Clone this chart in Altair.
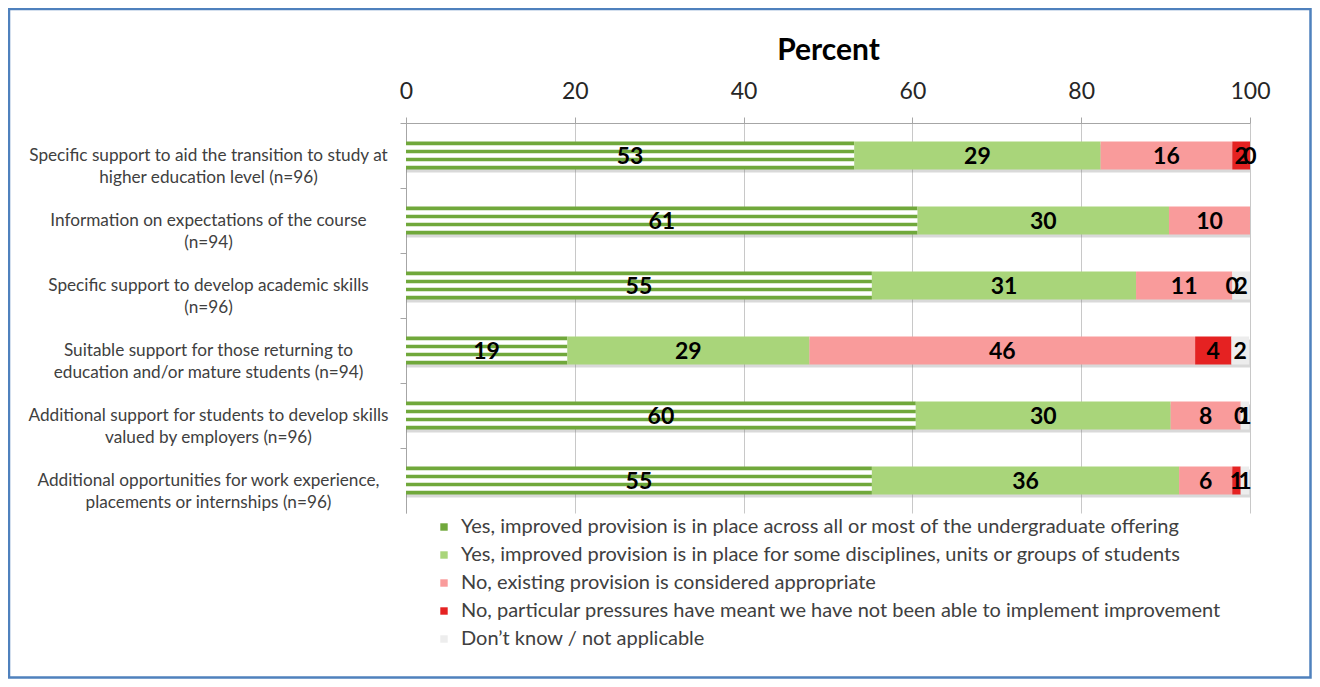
import altair as alt
import pandas as pd

categories = [
    "Specific support to aid the transition to study at|higher education level (n=96)",
    "Information on expectations of the course|(n=94)",
    "Specific support to develop academic skills|(n=96)",
    "Suitable support for those returning to|education and/or mature students (n=94)",
    "Additional support for students to develop skills|valued by employers (n=96)",
    "Additional opportunities for work experience,|placements or internships (n=96)",
]
series = [
    "Yes, improved provision is in place across all or most  of the undergraduate offering",
    "Yes, improved provision is in place for some disciplines, units or groups of students",
    "No, existing provision is considered appropriate",
    "No, particular pressures have meant we have not been able to implement improvement",
    "Don\u2019t know / not applicable",
]
yes_all = [53.1, 60.6, 55.2, 19.1, 60.4, 55.2]
yes_some = [29.2, 29.8, 31.3, 28.7, 30.2, 36.4]
no_appropriate = [15.6, 9.6, 11.4, 45.7, 8.3, 6.3]
no_pressures = [2.1, None, 0.0, 4.3, 0.0, 1.0]
dont_know = [0.0, None, 2.1, 2.1, 1.0, 1.0]
colors = ["#70A83B", "#A9D57A", "#F99B9B", "#E52222", "#EDEDED"]

rows = []
for s_idx, vals in enumerate([yes_all, yes_some, no_appropriate, no_pressures, dont_know]):
    for c_idx, v in enumerate(vals):
        if v is None:
            continue
        rows.append({"category": categories[c_idx], "series": series[s_idx],
                     "order": s_idx, "value": v})
df = pd.DataFrame(rows)

FONT = "Lato"
BAR_H = 28

base = alt.Chart(df).transform_stack(
    stack="value", groupby=["category"], as_=["x0", "x1"],
    sort=[alt.SortField("order", order="ascending")]
).transform_calculate(mid="(datum.x0 + datum.x1) / 2")

y_enc = alt.Y(
    "category:N", sort=categories,
    scale=alt.Scale(paddingInner=0, paddingOuter=0),
    axis=alt.Axis(
        title=None, labelExpr="split(datum.label, '|')", labelAlign="center",
        labelBaseline="middle", labelPadding=192, labelLineHeight=22,
        labelFont=FONT, labelFontSize=17.2, labelColor="#404040", labelLimit=0,
        tickSize=6, bandPosition=0, tickColor="#A6A6A6", domainColor="#A6A6A6",
        grid=False,
    ),
)
x_enc = alt.X(
    "x0:Q", scale=alt.Scale(domain=[0, 100], nice=False),
    axis=alt.Axis(
        orient="top", values=[0, 20, 40, 60, 80, 100], title="Percent",
        titleFont=FONT, titleFontSize=30, titleFontWeight="bold", titleColor="black",
        titlePadding=15, labelFont=FONT, labelFontSize=23, labelColor="#262626",
        labelPadding=14, labelFlush=False, tickSize=6, tickColor="#A6A6A6",
        domainColor="#A6A6A6", gridColor="#C8C8C8",
    ),
)

shadow = base.transform_filter("datum.order == 0").mark_bar(
    height=BAR_H, color="#808080", opacity=0.3, yOffset=3
).encode(y=y_enc, x=alt.X("x0:Q", scale=alt.Scale(domain=[0, 100], nice=False)),
         x2=alt.datum(100))

bars = base.mark_bar(height=BAR_H).encode(
    y=y_enc,
    x=x_enc,
    x2="x1:Q",
    color=alt.Color(
        "series:N", sort=series,
        scale=alt.Scale(domain=series, range=colors),
        legend=alt.Legend(
            title=None, orient="none", legendX=28, legendY=394,
            labelFont=FONT, labelFontSize=20, labelColor="#404040",
            symbolType="square", symbolSize=55, symbolStrokeWidth=0,
            rowPadding=8, labelLimit=0, labelOffset=7, padding=0,
        ),
    ),
)

stripes = []
for off in (-8, 0, 8):
    stripes.append(
        base.transform_filter("datum.order == 0").mark_bar(
            height=4.5, color="white", yOffset=off
        ).encode(y=y_enc, x="x0:Q", x2="x1:Q")
    )

labels = base.mark_text(
    font=FONT, fontSize=23, fontWeight="bold", color="black",
    baseline="middle", align="center", dy=1
).encode(
    y=y_enc,
    x="mid:Q",
    text=alt.Text("value:Q", format=".0f"),
)

frame = alt.Chart(pd.DataFrame({"a": [0]})).mark_rect(
    filled=False, stroke="#4F81BD", strokeWidth=2.5
).encode(
    x=alt.value(-397), x2=alt.value(904.5),
    y=alt.value(-114), y2=alt.value(554.5),
)

chart = alt.layer(shadow, bars, *stripes, labels, frame).properties(
    width=844, height=390,
    padding={"left": 398, "top": 115, "right": 62, "bottom": 166},
    autosize=alt.AutoSizeParams(type="none"),
).configure_view(strokeWidth=0)

chart.save("out.html", embed_options={"renderer": "svg", "actions": False})
